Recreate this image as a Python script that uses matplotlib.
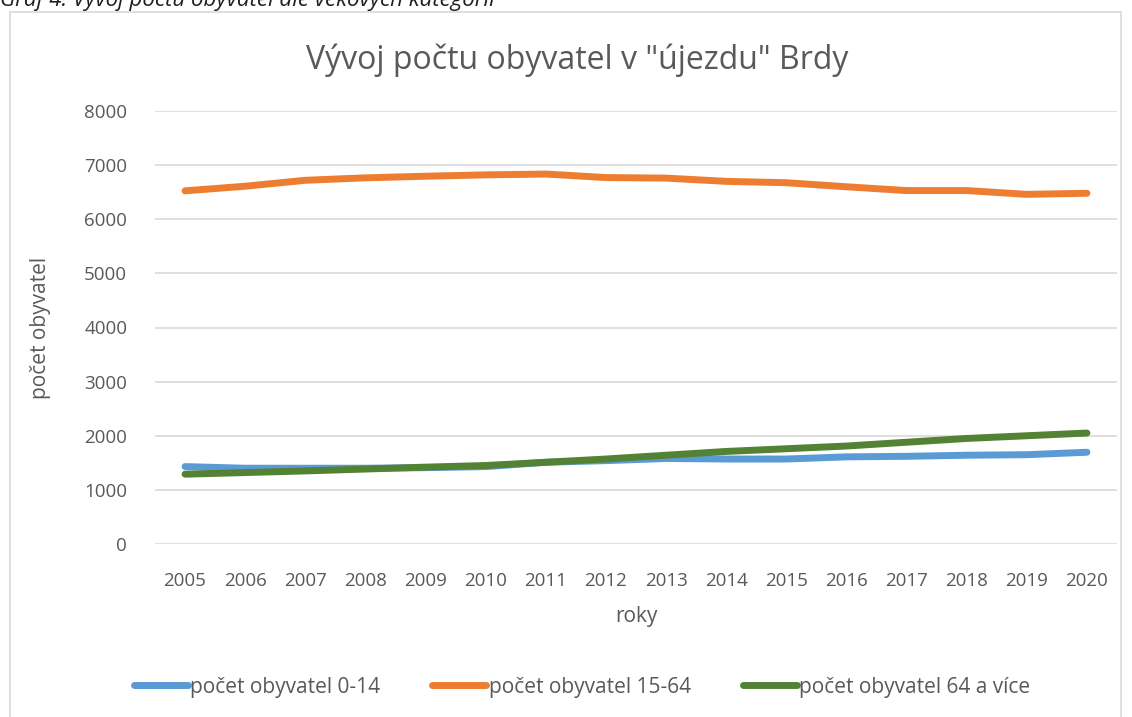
import matplotlib.pyplot as plt
from matplotlib.patches import Rectangle

# roky a počty obyvatel podle věkových kategorií
years = list(range(2005, 2021))
kids = [1430, 1400, 1400, 1400, 1410, 1430, 1510, 1540, 1580, 1570, 1570, 1610, 1620, 1640, 1650, 1695]
adults = [6525, 6610, 6720, 6765, 6795, 6820, 6835, 6770, 6760, 6700, 6675, 6600, 6530, 6530, 6460, 6480]
seniors = [1290, 1320, 1350, 1385, 1420, 1450, 1510, 1570, 1640, 1710, 1760, 1810, 1880, 1950, 2000, 2050]

plt.rcParams['font.family'] = ['Open Sans', 'DejaVu Sans']
txt = '#595959'

fig = plt.figure(figsize=(11.32, 7.17), dpi=100)
ax = fig.add_axes([155 / 1132, 1 - 544 / 717, (1117 - 155) / 1132, (544 - 111) / 717])

# rámeček grafu a oříznutý popisek nad ním
fig.patches.append(Rectangle((10 / 1132, -0.05), 1111 / 1132, 1.05 - 12 / 717,
                             transform=fig.transFigure, fill=False, edgecolor='#d9d9d9', lw=1.2))
fig.text(0 / 1132, 1 - 6 / 717, 'Graf 4: Vývoj počtu obyvatel dle věkových kategorií',
         fontsize=16, style='italic', color='#1f1f1f', va='baseline', ha='left')

x = list(range(len(years)))
ax.plot(x, kids, color='#5b9bd5', lw=5, solid_capstyle='round', label='počet obyvatel 0-14')
ax.plot(x, adults, color='#ed7d31', lw=5, solid_capstyle='round', label='počet obyvatel 15-64')
ax.plot(x, seniors, color='#548235', lw=5, solid_capstyle='round', label='počet obyvatel 64 a více')

ax.set_xlim(-0.5, len(years) - 0.5)
ax.set_ylim(0, 8000)
ax.set_yticks(range(0, 8001, 1000))
ax.set_xticks(x)
ax.set_xticklabels([str(y) for y in years])
ax.grid(axis='y', color='#d9d9d9', lw=1.2)
ax.set_axisbelow(True)
for s in ax.spines.values():
    s.set_visible(False)
ax.tick_params(length=0, labelsize=13.5, colors=txt)
ax.tick_params(axis='x', pad=20)
ax.tick_params(axis='y', pad=20)

fig.text(577 / 1132, 1 - 60 / 717, 'Vývoj počtu obyvatel v "újezdu" Brdy',
         fontsize=23, color=txt, ha='center', va='center')
ax.set_xlabel('roky', fontsize=15, color=txt, labelpad=12)
ax.set_ylabel('počet obyvatel', fontsize=15, color=txt, labelpad=24)

ax.legend(loc='center', bbox_to_anchor=(582 / 1132, 1 - 687 / 717), bbox_transform=fig.transFigure,
          ncol=3, frameon=False, fontsize=15, labelcolor=txt, handlelength=2.6,
          handletextpad=0.1, columnspacing=2.5)

fig.savefig('out.png', dpi=100)
